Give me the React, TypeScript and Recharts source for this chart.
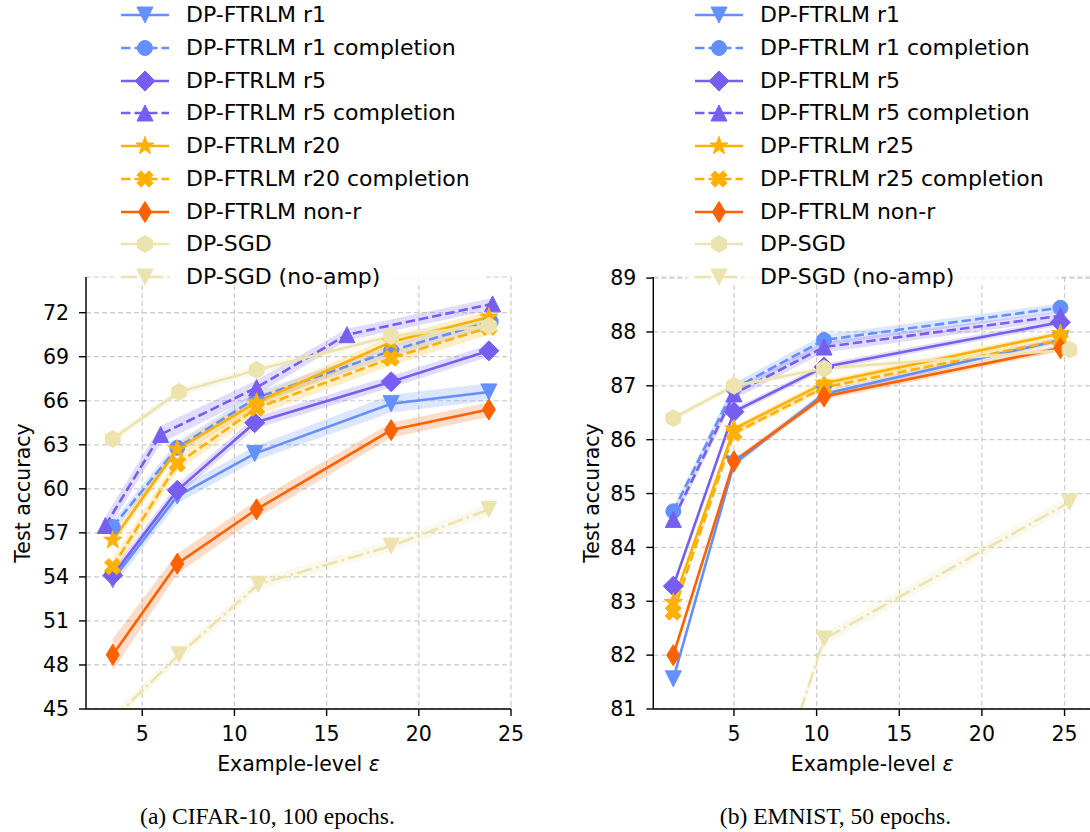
import React from "react";
import { Area, CartesianGrid, ComposedChart, Line, XAxis, YAxis } from "recharts";

// ---- (a) CIFAR-10, 100 epochs ----
const CIFAR_R1_EPS = [3.4, 6.9, 11.1, 18.5, 23.8];
const CIFAR_R1_ACC = [53.8, 59.5, 62.4, 65.8, 66.6];
const CIFAR_R1_SD = [0.5, 0.5, 0.5, 0.6, 0.6];

const CIFAR_R1C_EPS = [3.4, 6.9, 11.2, 18.5, 23.9];
const CIFAR_R1C_ACC = [57.4, 62.8, 66.2, 69.4, 71.4];
const CIFAR_R1C_SD = [0.4, 0.4, 0.4, 0.4, 0.4];

const CIFAR_R5_EPS = [3.4, 6.9, 11.1, 18.5, 23.8];
const CIFAR_R5_ACC = [54.1, 59.9, 64.5, 67.3, 69.4];
const CIFAR_R5_SD = [0.4, 0.4, 0.4, 0.4, 0.4];

const CIFAR_R5C_EPS = [3.0, 6.0, 11.2, 16.1, 24.0];
const CIFAR_R5C_ACC = [57.5, 63.7, 66.9, 70.5, 72.6];
const CIFAR_R5C_SD = [0.6, 0.6, 0.5, 0.4, 0.4];

const CIFAR_R20_EPS = [3.4, 6.9, 11.2, 18.5, 23.8];
const CIFAR_R20_ACC = [56.5, 62.7, 65.9, 70.0, 71.7];
const CIFAR_R20_SD = [0.4, 0.4, 0.4, 0.4, 0.4];

const CIFAR_R20C_EPS = [3.4, 6.9, 11.2, 18.5, 23.8];
const CIFAR_R20C_ACC = [54.7, 61.7, 65.5, 68.9, 71.0];
const CIFAR_R20C_SD = [0.5, 0.5, 0.5, 0.5, 0.5];

const CIFAR_NONR_EPS = [3.4, 6.9, 11.2, 18.5, 23.8];
const CIFAR_NONR_ACC = [48.7, 54.9, 58.6, 64.0, 65.4];
const CIFAR_NONR_SD = [1.1, 0.7, 0.6, 0.5, 0.5];

const CIFAR_SGD_EPS = [3.4, 7.0, 11.2, 18.5, 23.8];
const CIFAR_SGD_ACC = [63.4, 66.6, 68.1, 70.4, 71.1];
const CIFAR_SGD_SD = [0.3, 0.3, 0.3, 0.3, 0.3];

const CIFAR_NOAMP_EPS = [3.4, 7.0, 11.3, 18.5, 23.8];
const CIFAR_NOAMP_ACC = [44.3, 48.7, 53.5, 56.1, 58.6];
const CIFAR_NOAMP_SD = [0.4, 0.4, 0.4, 0.4, 0.4];

// ---- (b) EMNIST, 50 epochs ----
const EMNIST_EPS = [1.33, 5.0, 10.45, 24.75];
const EMNIST_R1_ACC = [81.56, 85.55, 86.85, 87.85];
const EMNIST_R1C_ACC = [84.67, 86.95, 87.85, 88.45];
const EMNIST_R5_ACC = [83.28, 86.52, 87.35, 88.18];
const EMNIST_R5C_ACC = [84.52, 86.85, 87.72, 88.3];
const EMNIST_R25_ACC = [82.98, 86.2, 87.05, 87.97];
const EMNIST_R25C_ACC = [82.8, 86.12, 86.97, 87.85];
const EMNIST_NONR_ACC = [82.0, 85.6, 86.8, 87.7];
const EMNIST_SD = [0.06, 0.06, 0.06, 0.06];
const EMNIST_COMPL_SD = [0.08, 0.1, 0.1, 0.08];

const EMNIST_SGD_EPS = [1.33, 5.0, 10.45, 25.3];
const EMNIST_SGD_ACC = [86.4, 87.0, 87.32, 87.67];
const EMNIST_NOAMP_EPS = [5.0, 10.45, 25.3];
const EMNIST_NOAMP_ACC = [77.2, 82.3, 84.84];
const EMNIST_NOAMP_SD = [0.12, 0.12, 0.12];

const CIFAR_LABELS = [
  "DP-FTRLM r1",
  "DP-FTRLM r1 completion",
  "DP-FTRLM r5",
  "DP-FTRLM r5 completion",
  "DP-FTRLM r20",
  "DP-FTRLM r20 completion",
  "DP-FTRLM non-r",
  "DP-SGD",
  "DP-SGD (no-amp)",
];
const EMNIST_LABELS = [
  "DP-FTRLM r1",
  "DP-FTRLM r1 completion",
  "DP-FTRLM r5",
  "DP-FTRLM r5 completion",
  "DP-FTRLM r25",
  "DP-FTRLM r25 completion",
  "DP-FTRLM non-r",
  "DP-SGD",
  "DP-SGD (no-amp)",
];

const CIFAR_Y_TICKS = [45, 48, 51, 54, 57, 60, 63, 66, 69, 72];
const EMNIST_Y_TICKS = [81, 82, 83, 84, 85, 86, 87, 88, 89];
const EPS_TICKS = [5, 10, 15, 20, 25];

const BLUE = "#648FFF";
const PURPLE = "#785EF0";
const GOLD = "#FFB000";
const ORANGE = "#FE6100";
const SAND = "#EDE3AE";

const DASHED = "9.5 4";
const DASHDOT = "16 4 2.5 4";
const FONT = "DejaVu Sans, sans-serif";

type Style = { color: string; dash?: string; marker: string };

// one style per legend entry, same order as the label lists
const STYLES: Style[] = [
  { color: BLUE, marker: "v" },
  { color: BLUE, dash: DASHED, marker: "o" },
  { color: PURPLE, marker: "D" },
  { color: PURPLE, dash: DASHED, marker: "^" },
  { color: GOLD, marker: "*" },
  { color: GOLD, dash: DASHED, marker: "X" },
  { color: ORANGE, marker: "d" },
  { color: SAND, marker: "h" },
  { color: SAND, dash: DASHDOT, marker: "v" },
];

type Row = { eps: number; acc: number; band: [number, number] };

function rows(eps: number[], acc: number[], sd: number[]): Row[] {
  return eps.map((e, i) => ({ eps: e, acc: acc[i], band: [acc[i] - sd[i], acc[i] + sd[i]] }));
}

const CIFAR_ROWS: Row[][] = [
  rows(CIFAR_R1_EPS, CIFAR_R1_ACC, CIFAR_R1_SD),
  rows(CIFAR_R1C_EPS, CIFAR_R1C_ACC, CIFAR_R1C_SD),
  rows(CIFAR_R5_EPS, CIFAR_R5_ACC, CIFAR_R5_SD),
  rows(CIFAR_R5C_EPS, CIFAR_R5C_ACC, CIFAR_R5C_SD),
  rows(CIFAR_R20_EPS, CIFAR_R20_ACC, CIFAR_R20_SD),
  rows(CIFAR_R20C_EPS, CIFAR_R20C_ACC, CIFAR_R20C_SD),
  rows(CIFAR_NONR_EPS, CIFAR_NONR_ACC, CIFAR_NONR_SD),
  rows(CIFAR_SGD_EPS, CIFAR_SGD_ACC, CIFAR_SGD_SD),
  rows(CIFAR_NOAMP_EPS, CIFAR_NOAMP_ACC, CIFAR_NOAMP_SD),
];

const EMNIST_ROWS: Row[][] = [
  rows(EMNIST_EPS, EMNIST_R1_ACC, EMNIST_SD),
  rows(EMNIST_EPS, EMNIST_R1C_ACC, EMNIST_COMPL_SD),
  rows(EMNIST_EPS, EMNIST_R5_ACC, EMNIST_SD),
  rows(EMNIST_EPS, EMNIST_R5C_ACC, EMNIST_COMPL_SD),
  rows(EMNIST_EPS, EMNIST_R25_ACC, EMNIST_SD),
  rows(EMNIST_EPS, EMNIST_R25C_ACC, EMNIST_SD),
  rows(EMNIST_EPS, EMNIST_NONR_ACC, EMNIST_SD),
  rows(EMNIST_SGD_EPS, EMNIST_SGD_ACC, EMNIST_SD),
  rows(EMNIST_NOAMP_EPS, EMNIST_NOAMP_ACC, EMNIST_NOAMP_SD),
];

function poly(cx: number, cy: number, pts: number[][]) {
  return pts.map(([x, y]) => `${cx + x},${cy + y}`).join(" ");
}

function radial(n: number, rOuter: number, rInner: number) {
  const out: number[][] = [];
  const step = rInner > 0 ? n * 2 : n;
  for (let i = 0; i < step; i++) {
    const a = -Math.PI / 2 + (i * 2 * Math.PI) / step;
    const r = rInner > 0 && i % 2 === 1 ? rInner : rOuter;
    out.push([r * Math.cos(a), r * Math.sin(a)]);
  }
  return out;
}

function xShape() {
  const a = 8.5;
  const w = 3;
  const plus = [
    [-w, -a], [w, -a], [w, -w], [a, -w], [a, w], [w, w],
    [w, a], [-w, a], [-w, w], [-a, w], [-a, -w], [-w, -w],
  ];
  const c = Math.SQRT1_2;
  return plus.map(([x, y]) => [c * x - c * y, c * x + c * y]);
}

function Marker({ kind, cx, cy, color }: { kind: string; cx: number; cy: number; color: string }) {
  const p = { fill: color, stroke: color, strokeWidth: 1 };
  switch (kind) {
    case "o":
      return <circle cx={cx} cy={cy} r={7.5} {...p} />;
    case "v":
      return <polygon points={poly(cx, cy, [[-8, -8], [8, -8], [0, 8]])} {...p} />;
    case "^":
      return <polygon points={poly(cx, cy, [[0, -8], [8, 8], [-8, 8]])} {...p} />;
    case "D":
      return <polygon points={poly(cx, cy, [[0, -10], [10, 0], [0, 10], [-10, 0]])} {...p} />;
    case "d":
      return <polygon points={poly(cx, cy, [[0, -10.5], [6.5, 0], [0, 10.5], [-6.5, 0]])} {...p} />;
    case "*":
      return <polygon points={poly(cx, cy, radial(5, 9.5, 3.8))} {...p} />;
    case "X":
      return <polygon points={poly(cx, cy, xShape())} {...p} />;
    case "h":
      return <polygon points={poly(cx, cy, radial(6, 8.5, 0))} {...p} />;
    default:
      return null;
  }
}

// markers whose value falls below the axis are left out, like matplotlib clipping
function dotFor(st: Style, yMin: number) {
  return (props: any) => {
    const { cx, cy, index, payload } = props;
    if (!Number.isFinite(cx) || !Number.isFinite(cy) || payload?.acc < yMin) return <g key={index} />;
    return (
      <g key={index}>
        <Marker kind={st.marker} cx={cx} cy={cy} color={st.color} />
      </g>
    );
  };
}

function XTitle({ viewBox, dy }: any) {
  const { x, y, width } = viewBox;
  return (
    <text x={x + width / 2} y={y + dy} textAnchor="middle" fontFamily={FONT} fontSize={20.5} fill="#000">
      Example-level <tspan fontStyle="italic">ε</tspan>
    </text>
  );
}

function YTitle({ viewBox, cx }: any) {
  const { y, height } = viewBox;
  const cy = y + height / 2;
  return (
    <text
      x={cx}
      y={cy}
      transform={`rotate(-90 ${cx} ${cy})`}
      textAnchor="middle"
      dominantBaseline="central"
      fontFamily={FONT}
      fontSize={20.5}
      fill="#000"
    >
      Test accuracy
    </text>
  );
}

const tickStyle = { fill: "#000", fontFamily: FONT, fontSize: 20.5 };
const axisStroke = { stroke: "#000", strokeWidth: 1.4 };

function Panel({
  data,
  xDomain,
  yDomain,
  yTicks,
  yAxisWidth,
  marginRight,
  titleX,
}: {
  data: Row[][];
  xDomain: [number, number];
  yDomain: [number, number];
  yTicks: number[];
  yAxisWidth: number;
  marginRight: number;
  titleX: number;
}) {
  const items: React.ReactElement[] = [];
  data.forEach((d, i) => {
    const st = STYLES[i];
    items.push(
      <Area
        key={`band-${i}`}
        data={d}
        dataKey="band"
        type="linear"
        stroke="none"
        fill={st.color}
        fillOpacity={0.22}
        isAnimationActive={false}
        activeDot={false}
      />
    );
    items.push(
      <Line
        key={`line-${i}`}
        data={d}
        dataKey="acc"
        type="linear"
        stroke={st.color}
        strokeWidth={2.6}
        strokeDasharray={st.dash}
        dot={dotFor(st, yDomain[0])}
        activeDot={false}
        isAnimationActive={false}
      />
    );
  });

  return (
    <ComposedChart width={545} height={800} margin={{ top: 277, right: marginRight, bottom: 0, left: 0 }}>
      <CartesianGrid stroke="#cccccc" strokeDasharray="5 3" strokeWidth={1.2} />
      <XAxis
        dataKey="eps"
        type="number"
        domain={xDomain}
        allowDataOverflow
        ticks={EPS_TICKS}
        interval={0}
        height={91}
        tick={tickStyle}
        tickSize={7}
        tickMargin={10}
        tickLine={axisStroke}
        axisLine={axisStroke}
        label={<XTitle dy={62} />}
      />
      <XAxis
        xAxisId="top"
        orientation="top"
        type="number"
        domain={xDomain}
        allowDataOverflow
        height={0}
        tick={false}
        tickLine={false}
        axisLine={axisStroke}
      />
      <YAxis
        type="number"
        domain={yDomain}
        allowDataOverflow
        ticks={yTicks}
        interval={0}
        width={yAxisWidth}
        tick={tickStyle}
        tickSize={7}
        tickMargin={10}
        tickLine={axisStroke}
        axisLine={axisStroke}
        label={<YTitle cx={titleX} />}
      />
      <YAxis
        yAxisId="right"
        orientation="right"
        type="number"
        domain={yDomain}
        allowDataOverflow
        width={0}
        tick={false}
        tickLine={false}
        axisLine={axisStroke}
      />
      {items}
    </ComposedChart>
  );
}

function Legend({ labels, left }: { labels: string[]; left: number }) {
  return (
    <div
      style={{
        position: "absolute",
        left,
        top: -6,
        width: 370,
        height: 291,
        background: "rgba(255,255,255,0.8)",
        borderRadius: 4,
      }}
    >
      {labels.map((lab, i) => {
        const st = STYLES[i];
        const cy = 21 + 32.75 * i;
        return (
          <div key={lab} style={{ position: "absolute", left: 0, top: cy - 15, height: 30, width: 370 }}>
            <svg width={60} height={30} style={{ position: "absolute", left: 8, top: 0 }}>
              <line
                x1={0}
                x2={48}
                y1={15}
                y2={15}
                stroke={st.color}
                strokeWidth={2.6}
                strokeDasharray={st.dash}
              />
              <Marker kind={st.marker} cx={24} cy={15} color={st.color} />
            </svg>
            <span
              style={{
                position: "absolute",
                left: 73,
                top: 0,
                lineHeight: "30px",
                fontFamily: FONT,
                fontSize: 22,
                color: "#000",
                whiteSpace: "nowrap",
              }}
            >
              {lab}
            </span>
          </div>
        );
      })}
    </div>
  );
}

const captionStyle: React.CSSProperties = {
  position: "absolute",
  top: 802,
  fontFamily: "Liberation Serif, Times New Roman, serif",
  fontSize: 23.5,
  color: "#000",
  whiteSpace: "nowrap",
  transform: "translateX(-50%)",
  lineHeight: "28px",
};

export default function App() {
  return (
    <div
      style={{
        position: "absolute",
        left: 0,
        top: 0,
        width: 1090,
        height: 832,
        overflow: "hidden",
        background: "#fff",
      }}
    >
      <div style={{ position: "absolute", left: 0, top: 0 }}>
        <Panel
          data={CIFAR_ROWS}
          xDomain={[1.95, 25]}
          yDomain={[45, 74.43]}
          yTicks={CIFAR_Y_TICKS}
          yAxisWidth={86}
          marginRight={34}
          titleX={23}
        />
      </div>
      <div style={{ position: "absolute", left: 560, top: 0 }}>
        <Panel
          data={EMNIST_ROWS}
          xDomain={[0.12, 26.6]}
          yDomain={[81, 89.02]}
          yTicks={EMNIST_Y_TICKS}
          yAxisWidth={93.3}
          marginRight={14}
          titleX={32}
        />
      </div>
      <Legend labels={CIFAR_LABELS} left={113} />
      <Legend labels={EMNIST_LABELS} left={687} />
      <div style={{ ...captionStyle, left: 267.5 }}>(a) CIFAR-10, 100 epochs.</div>
      <div style={{ ...captionStyle, left: 835.5 }}>(b) EMNIST, 50 epochs.</div>
    </div>
  );
}
